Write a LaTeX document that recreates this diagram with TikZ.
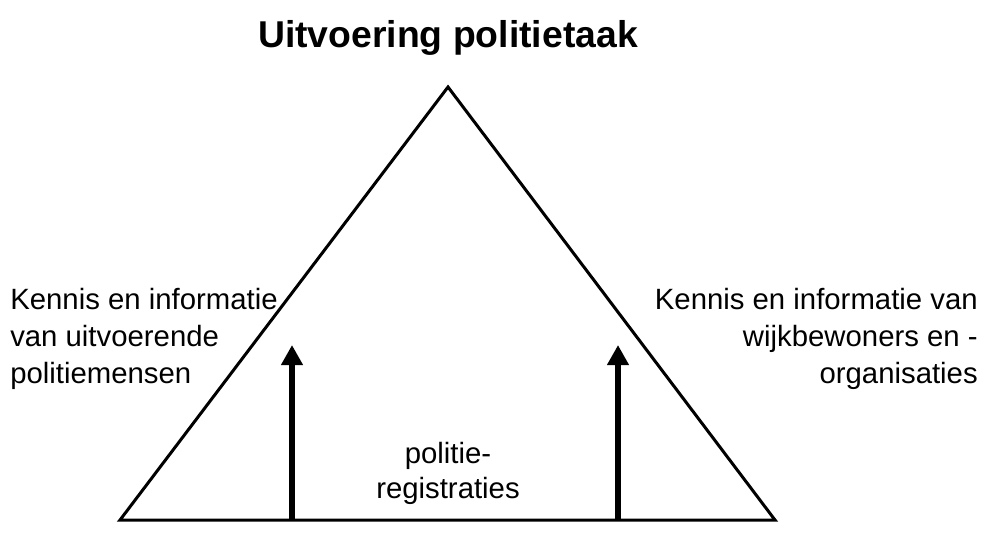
\documentclass[tikz,border=0pt]{standalone}
\usepackage{fontspec}
\setmainfont{Liberation Sans}
\usetikzlibrary{arrows.meta}

\begin{document}
\begin{tikzpicture}[x=0.75pt, y=-0.75pt,
        tekst/.style={inner sep=0pt, font=\fontsize{22}{27.75}\selectfont},
        pijl/.style={line width=4.5pt, -{Triangle[length=15pt, width=15.5pt]}}]
        \useasboundingbox (0,0) rectangle (988,539);

        \node[font=\bfseries\fontsize{28}{34}\selectfont, anchor=base] (titel) at (448,47) {Uitvoering politietaak};

        % driehoek
        \coordinate (top) at (448,87);
        \coordinate (linksonder) at (120,520);
        \coordinate (rechtsonder) at (775,520);
        \draw[line width=2.25pt, line join=miter] (top) -- (rechtsonder) -- (linksonder) -- cycle;

        \node[tekst, anchor=north west, align=left] (links) at (10,288) {Kennis en informatie\\van uitvoerende\\politiemensen};
        \node[tekst, anchor=north east, align=right] (rechts) at (978,288) {Kennis en informatie van\\wijkbewoners en -\\organisaties};
        \node[tekst, anchor=north, align=center, font=\fontsize{22}{26}\selectfont] (registraties) at (448,442) {politie-\\registraties};

        % pijlen omhoog
        \coordinate (pijl1onder) at (292,520);
        \coordinate (pijl1boven) at (292,345);
        \coordinate (pijl2onder) at (618,520);
        \coordinate (pijl2boven) at (618,345);
        \draw[pijl] (pijl1onder) -- (pijl1boven);
        \draw[pijl] (pijl2onder) -- (pijl2boven);
    \end{tikzpicture}
\end{document}
